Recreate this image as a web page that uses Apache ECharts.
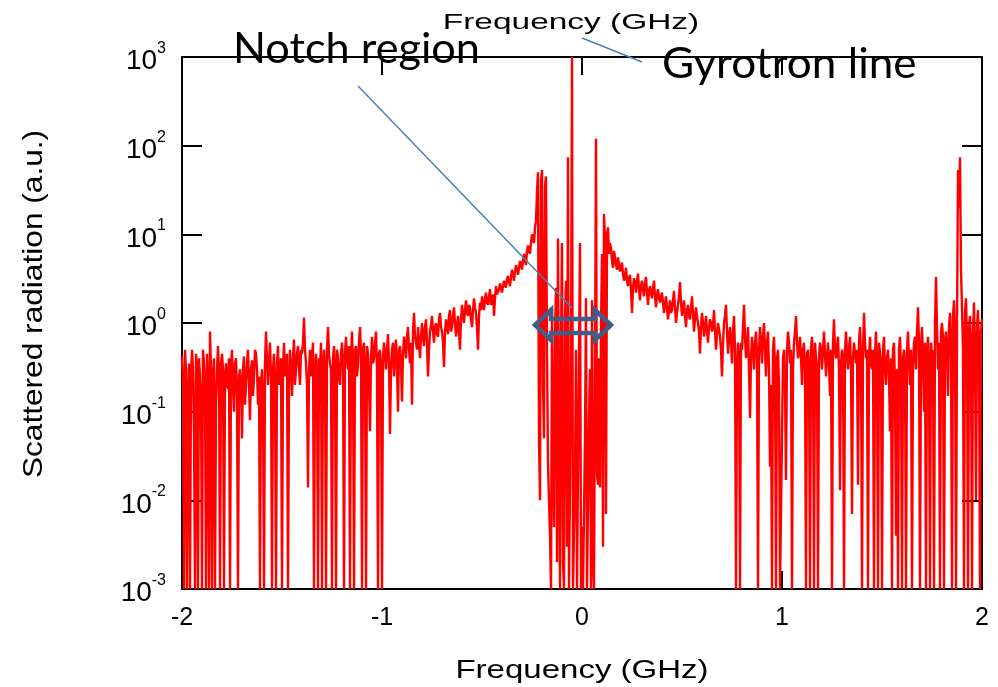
<!DOCTYPE html>
<html><head><meta charset="utf-8">
<script src="https://cdn.jsdelivr.net/npm/echarts@6/dist/echarts.min.js"></script>
<style>html,body{margin:0;padding:0;background:#fff}#c{width:998px;height:687px}</style>
</head><body><div id="c"></div>
<script>
// Frequency grid (GHz), main samples
const freqGHz = [
-2,-1.99,-1.98,-1.97,-1.96,-1.95,-1.94,-1.93,-1.92,-1.91,-1.9,-1.89,-1.88,-1.87,-1.86,-1.85,-1.84,-1.83,-1.82,-1.81,
-1.8,-1.79,-1.78,-1.77,-1.76,-1.75,-1.74,-1.73,-1.72,-1.71,-1.7,-1.69,-1.68,-1.67,-1.66,-1.65,-1.64,-1.63,-1.62,-1.61,
-1.6,-1.59,-1.58,-1.57,-1.56,-1.55,-1.54,-1.53,-1.52,-1.51,-1.5,-1.49,-1.48,-1.47,-1.46,-1.45,-1.44,-1.43,-1.42,-1.41,
-1.4,-1.39,-1.38,-1.37,-1.36,-1.35,-1.34,-1.33,-1.32,-1.31,-1.3,-1.29,-1.28,-1.27,-1.26,-1.25,-1.24,-1.23,-1.22,-1.21,
-1.2,-1.19,-1.18,-1.17,-1.16,-1.15,-1.14,-1.13,-1.12,-1.11,-1.1,-1.09,-1.08,-1.07,-1.06,-1.05,-1.04,-1.03,-1.02,-1.01,
-1,-0.99,-0.98,-0.97,-0.96,-0.95,-0.94,-0.93,-0.92,-0.91,-0.9,-0.89,-0.88,-0.87,-0.86,-0.85,-0.84,-0.83,-0.82,-0.81,
-0.8,-0.79,-0.78,-0.77,-0.76,-0.75,-0.74,-0.73,-0.72,-0.71,-0.7,-0.69,-0.68,-0.67,-0.66,-0.65,-0.64,-0.63,-0.62,-0.61,
-0.6,-0.59,-0.58,-0.57,-0.56,-0.55,-0.54,-0.53,-0.52,-0.51,-0.5,-0.49,-0.48,-0.47,-0.46,-0.45,-0.44,-0.43,-0.42,-0.41,
-0.4,-0.39,-0.38,-0.37,-0.36,-0.35,-0.34,-0.33,-0.32,-0.31,-0.3,-0.29,-0.28,-0.27,-0.26,-0.25,-0.24,-0.23,-0.22,-0.21,
-0.2,-0.19,-0.18,-0.17,-0.16,-0.15,-0.14,-0.13,-0.12,-0.11,-0.1,-0.09,-0.08,-0.07,-0.06,-0.05,-0.04,-0.03,-0.02,-0.01,
0,0.01,0.02,0.03,0.04,0.05,0.06,0.07,0.08,0.09,0.1,0.11,0.12,0.13,0.14,0.15,0.16,0.17,0.18,0.19,
0.2,0.21,0.22,0.23,0.24,0.25,0.26,0.27,0.28,0.29,0.3,0.31,0.32,0.33,0.34,0.35,0.36,0.37,0.38,0.39,
0.4,0.41,0.42,0.43,0.44,0.45,0.46,0.47,0.48,0.49,0.5,0.51,0.52,0.53,0.54,0.55,0.56,0.57,0.58,0.59,
0.6,0.61,0.62,0.63,0.64,0.65,0.66,0.67,0.68,0.69,0.7,0.71,0.72,0.73,0.74,0.75,0.76,0.77,0.78,0.79,
0.8,0.81,0.82,0.83,0.84,0.85,0.86,0.87,0.88,0.89,0.9,0.91,0.92,0.93,0.94,0.95,0.96,0.97,0.98,0.99,
1,1.01,1.02,1.03,1.04,1.05,1.06,1.07,1.08,1.09,1.1,1.11,1.12,1.13,1.14,1.15,1.16,1.17,1.18,1.19,
1.2,1.21,1.22,1.23,1.24,1.25,1.26,1.27,1.28,1.29,1.3,1.31,1.32,1.33,1.34,1.35,1.36,1.37,1.38,1.39,
1.4,1.41,1.42,1.43,1.44,1.45,1.46,1.47,1.48,1.49,1.5,1.51,1.52,1.53,1.54,1.55,1.56,1.57,1.58,1.59,
1.6,1.61,1.62,1.63,1.64,1.65,1.66,1.67,1.68,1.69,1.7,1.71,1.72,1.73,1.74,1.75,1.76,1.77,1.78,1.79,
1.8,1.81,1.82,1.83,1.84,1.85,1.86,1.87,1.88,1.89,1.9,1.91,1.92,1.93,1.94,1.95,1.96,1.97,1.98,1.99,
2
];
// Scattered radiation (a.u.) at the main samples; 0.001 = floor of the plot
const scattered = [
0.42,0.001,0.3,0.15,0.001,0.5,0.06,0.45,0.001,0.25,0.001,0.35,0.001,0.2,0.8,0.001,0.4,0.12,0.55,0.001,
0.45,0.001,0.35,0.18,0.001,0.5,0.1,0.4,0.001,0.3,0.05,0.42,0.2,0.5,0.08,0.38,0.25,0.45,0.12,0.001,
0.3,0.001,0.8,0.2,0.6,0.001,0.45,0.001,0.55,0.25,0.001,0.6,0.3,0.001,0.5,0.15,0.65,0.3,0.55,0.2,
0.45,1.15,0.35,0.014,0.5,0.4,0.001,0.45,0.001,0.3,0.001,0.5,0.001,0.9,0.35,0.001,0.55,0.001,0.4,0.2,
0.6,0.001,0.7,0.3,0.001,0.8,0.001,0.55,0.35,0.9,0.001,0.6,0.001,0.45,0.06,0.7,0.4,0.8,0.001,0.5,
0.001,0.6,0.3,0.75,0.056,0.5,0.25,0.65,0.1,0.55,0.13,0.7,0.4,0.9,0.35,0.12,1.3,0.6,0.9,0.4,
1.0,0.55,1.1,0.25,0.8,1.2,0.6,1.0,0.7,1.3,0.8,0.32,1.1,0.75,1.4,0.9,1.5,0.7,1.2,0.5,
1.6,1.0,1.8,1.2,1.5,0.9,1.9,1.3,0.5,1.7,2.0,1.4,2.2,1.6,2.4,1.8,1.2,2.6,2.0,2.8,
2.2,3.0,2.5,3.4,2.6,4.0,3.0,4.5,3.5,5.0,4.0,6.0,4.5,7.5,6.0,10,8.0,14,50,0.01,
53,0.05,45,0.025,0.004,1.5,0.005,2.5,9,0.001,8,0.001,3,74,0.001,1000,0.001,0.5,0.001,8,
0.005,0.001,1.9,0.001,0.3,1.8,0.001,120,0.015,0.014,6,17,0.007,12,8,5,6.5,4.5,5.5,3.8,
4.8,3.0,4.2,2.6,3.5,1.3,3.2,2.2,3.6,1.8,3.0,2.0,3.3,1.6,2.6,1.9,3.0,1.5,2.4,1.7,
2.2,1.3,2.0,1.1,1.8,1.4,2.3,1.0,1.6,2.9,1.2,1.8,0.9,1.6,1.1,2.0,0.8,1.5,1.0,0.45,
1.3,0.7,1.2,0.6,1.1,0.8,1.4,0.5,1.0,0.7,0.25,1.0,1.6,0.45,0.9,0.35,1.2,0.001,0.6,0.001,
0.5,1.6,0.4,0.9,0.085,0.7,0.3,0.8,0.001,0.9,0.35,1.0,0.25,0.8,0.024,0.001,0.7,0.001,0.5,0.001,
0.001,0.5,0.017,0.8,0.35,0.001,0.6,1.2,0.4,0.7,0.2,0.6,0.001,0.5,0.001,0.7,0.001,0.4,0.001,0.6,
0.3,0.8,0.25,0.6,0.15,0.001,1.1,0.4,0.7,0.013,0.5,0.001,0.8,0.3,0.7,0.007,0.6,0.35,0.015,0.9,
0.001,1.3,0.4,0.001,0.7,0.3,0.001,0.8,0.001,0.6,0.001,0.7,0.2,0.5,0.06,0.001,0.6,0.004,0.001,0.7,
0.001,0.5,0.001,0.8,0.2,0.001,0.6,0.3,1.5,0.001,0.9,0.1,0.001,0.7,0.001,0.4,0.001,3.3,0.3,0.001,
1.0,0.001,0.8,0.15,1.3,0.001,1.8,0.001,53,74,1.5,0.001,1.9,0.001,1.2,0.001,1.7,0.01,1.4,0.001,
1.1
];
// Intermediate samples (GHz) between the main ones
const freqMidGHz = [
-1.995,-1.985,-1.975,-1.965,-1.955,-1.945,-1.935,-1.925,-1.915,-1.905,-1.895,-1.885,-1.875,-1.865,-1.855,-1.845,-1.835,-1.825,-1.815,-1.805,
-1.795,-1.785,-1.775,-1.765,-1.755,-1.745,-1.735,-1.725,-1.715,-1.705,-1.695,-1.685,-1.675,-1.665,-1.655,-1.645,-1.635,-1.625,-1.615,-1.605,
-1.595,-1.585,-1.575,-1.565,-1.555,-1.545,-1.535,-1.525,-1.515,-1.505,-1.495,-1.485,-1.475,-1.465,-1.455,-1.445,-1.435,-1.425,-1.415,-1.405,
-1.395,-1.385,-1.375,-1.365,-1.355,-1.345,-1.335,-1.325,-1.315,-1.305,-1.295,-1.285,-1.275,-1.265,-1.255,-1.245,-1.235,-1.225,-1.215,-1.205,
-1.195,-1.185,-1.175,-1.165,-1.155,-1.145,-1.135,-1.125,-1.115,-1.105,-1.095,-1.085,-1.075,-1.065,-1.055,-1.045,-1.035,-1.025,-1.015,-1.005,
-0.995,-0.985,-0.975,-0.965,-0.955,-0.945,-0.935,-0.925,-0.915,-0.905,-0.895,-0.885,-0.875,-0.865,-0.855,-0.845,-0.835,-0.825,-0.815,-0.805,
-0.795,-0.785,-0.775,-0.765,-0.755,-0.745,-0.735,-0.725,-0.715,-0.705,-0.695,-0.685,-0.675,-0.665,-0.655,-0.645,-0.635,-0.625,-0.615,-0.605,
-0.595,-0.585,-0.575,-0.565,-0.555,-0.545,-0.535,-0.525,-0.515,-0.505,-0.495,-0.485,-0.475,-0.465,-0.455,-0.445,-0.435,-0.425,-0.415,-0.405,
-0.395,-0.385,-0.375,-0.365,-0.355,-0.345,-0.335,-0.325,-0.315,-0.305,-0.295,-0.285,-0.275,-0.265,-0.255,-0.245,-0.235,-0.225,-0.215,-0.205,
-0.195,-0.185,-0.175,-0.165,-0.155,-0.145,-0.135,-0.125,-0.115,-0.105,-0.095,-0.085,-0.075,-0.065,-0.055,-0.045,-0.035,-0.025,-0.015,-0.005,
0.005,0.015,0.025,0.035,0.045,0.055,0.065,0.075,0.085,0.095,0.105,0.115,0.125,0.135,0.145,0.155,0.165,0.175,0.185,0.195,
0.205,0.215,0.225,0.235,0.245,0.255,0.265,0.275,0.285,0.295,0.305,0.315,0.325,0.335,0.345,0.355,0.365,0.375,0.385,0.395,
0.405,0.415,0.425,0.435,0.445,0.455,0.465,0.475,0.485,0.495,0.505,0.515,0.525,0.535,0.545,0.555,0.565,0.575,0.585,0.595,
0.605,0.615,0.625,0.635,0.645,0.655,0.665,0.675,0.685,0.695,0.705,0.715,0.725,0.735,0.745,0.755,0.765,0.775,0.785,0.795,
0.805,0.815,0.825,0.835,0.845,0.855,0.865,0.875,0.885,0.895,0.905,0.915,0.925,0.935,0.945,0.955,0.965,0.975,0.985,0.995,
1.005,1.015,1.025,1.035,1.045,1.055,1.065,1.075,1.085,1.095,1.105,1.115,1.125,1.135,1.145,1.155,1.165,1.175,1.185,1.195,
1.205,1.215,1.225,1.235,1.245,1.255,1.265,1.275,1.285,1.295,1.305,1.315,1.325,1.335,1.345,1.355,1.365,1.375,1.385,1.395,
1.405,1.415,1.425,1.435,1.445,1.455,1.465,1.475,1.485,1.495,1.505,1.515,1.525,1.535,1.545,1.555,1.565,1.575,1.585,1.595,
1.605,1.615,1.625,1.635,1.645,1.655,1.665,1.675,1.685,1.695,1.705,1.715,1.725,1.735,1.745,1.755,1.765,1.775,1.785,1.795,
1.805,1.815,1.825,1.835,1.845,1.855,1.865,1.875,1.885,1.895,1.905,1.915,1.925,1.935,1.945,1.955,1.965,1.975,1.985,1.995
];
// Scattered radiation (a.u.) at the intermediate samples
const scatteredMid = [
0.2,0.5,0.001,0.35,0.25,0.3,0.001,0.3,0.4,0.15,0.5,0.2,0.45,0.001,0.3,0.25,0.001,0.3,0.25,0.35,
0.3,0.25,0.2,0.4,0.3,0.2,0.35,0.15,0.25,0.2,0.3,0.12,0.35,0.2,0.3,0.15,0.5,0.3,0.25,0.2,
0.15,0.35,0.4,0.35,0.25,0.3,0.2,0.35,0.2,0.4,0.3,0.25,0.45,0.2,0.3,0.4,0.2,0.45,0.3,0.5,
0.6,0.5,0.2,0.3,0.25,0.6,0.3,0.25,0.4,0.6,0.35,0.3,0.5,0.45,0.3,0.4,0.3,0.5,0.25,0.45,
0.35,0.45,0.4,0.55,0.4,0.3,0.5,0.25,0.6,0.45,0.5,0.3,0.55,0.2,0.4,0.35,0.6,0.3,0.45,0.3,
0.4,0.45,0.5,0.35,0.3,0.6,0.45,0.3,0.5,0.35,0.45,0.55,0.7,0.5,0.6,0.8,0.7,0.5,0.6,0.7,
0.7,0.9,0.6,0.5,0.95,0.8,0.9,0.75,1.1,0.9,0.6,0.8,0.9,1.2,0.8,1.2,1.0,0.9,0.8,1.1,
1.2,1.4,1.3,1.6,1.1,1.4,1.5,0.9,1.2,1.4,1.6,1.9,1.7,2.0,1.6,2.1,1.9,2.1,2.4,2.5,
2.6,2.7,3.1,2.9,3.3,3.5,3.8,4.0,4.2,4.6,5.0,5.2,6.5,6.5,8.0,9.0,12,30,0.05,40,
0.2,35,0.5,0.01,0.001,0.03,0.8,0.002,0.05,0.6,0.002,1.2,0.003,0.001,0.3,0.001,0.02,0.001,0.4,0.001,
0.001,0.05,0.001,0.08,0.001,0.002,0.001,0.02,0.4,0.9,0.003,9,10,6,7,4.2,5.5,4.0,4.5,4.3,
3.6,3.4,3.0,3.2,2.4,2.5,2.8,3.0,2.4,2.6,2.4,2.8,2.2,2.3,2.2,2.5,2.0,2.1,1.9,2.0,
1.7,1.6,1.5,1.4,1.3,1.8,1.5,1.3,2.0,1.7,1.5,1.2,1.4,1.2,1.5,1.3,1.1,1.2,0.8,0.9,
1.0,0.9,0.8,0.9,1.0,0.9,0.8,0.75,0.85,0.5,0.6,1.2,0.8,0.7,0.6,0.8,0.5,0.3,0.4,0.6,
0.9,0.7,0.6,0.3,0.4,0.5,0.6,0.4,0.5,0.6,0.7,0.5,0.6,0.3,0.2,0.5,0.3,0.4,0.2,0.001,
0.4,0.2,0.5,0.6,0.5,0.3,0.8,0.6,0.5,0.4,0.5,0.3,0.45,0.3,0.5,0.35,0.6,0.3,0.4,0.5,
0.5,0.45,0.4,0.35,0.5,0.6,0.5,0.55,0.3,0.35,0.4,0.5,0.45,0.5,0.3,0.4,0.45,0.5,0.6,0.4,
0.5,0.6,0.5,0.4,0.35,0.5,0.45,0.3,0.6,0.35,0.5,0.3,0.4,0.25,0.4,0.5,0.2,0.3,0.5,0.3,
0.4,0.3,0.5,0.4,0.5,0.3,0.7,0.8,0.6,0.5,0.4,0.6,0.45,0.3,0.6,0.5,1.0,0.9,0.6,0.8,
0.7,0.6,0.5,0.9,0.6,1.2,0.8,0.9,20,4,0.5,1.3,0.6,0.9,0.5,0.8,0.4,0.9,0.5,0.8
];
const xTicks = [-2, -1, 0, 1, 2];
const yTickExponents = [-3, -2, -1, 0, 1, 2, 3];
const xTitle = 'Frequency (GHz)';
const yTitle = 'Scattered radiation (a.u.)';
const notchLabel = 'Notch region';
const gyroLabel = 'Gyrotron line';

const FONT = '"Liberation Sans", Arial, sans-serif';
const chart = echarts.init(document.getElementById('c'), null, {renderer: 'canvas'});
const seriesData = freqGHz.map((f, i) => [f, scattered[i]])
  .concat(freqMidGHz.map((f, i) => [f, scatteredMid[i]]))
  .sort((a, b) => a[0] - b[0]);

const axisLineStyle = {color: '#000', width: 2};
const option = {
  animation: false,
  backgroundColor: '#fff',
  grid: {left: 182, top: 57, width: 800, height: 532, containLabel: false},
  xAxis: [
    {type: 'value', position: 'bottom', min: xTicks[0], max: xTicks[xTicks.length - 1], interval: 1,
     axisLine: {show: true, onZero: false, lineStyle: axisLineStyle},
     axisTick: {show: true, inside: true, length: 18, lineStyle: axisLineStyle},
     axisLabel: {show: true, fontSize: 25, color: '#000', fontFamily: FONT, margin: 17,
       formatter: v => xTicks.includes(v) ? String(v) : ''},
     splitLine: {show: false}},
    {type: 'value', position: 'top', min: xTicks[0], max: xTicks[xTicks.length - 1], interval: 1,
     axisLine: {show: true, onZero: false, lineStyle: axisLineStyle},
     axisTick: {show: true, inside: true, length: 18, lineStyle: axisLineStyle},
     axisLabel: {show: false}, splitLine: {show: false}}
  ],
  yAxis: [
    {type: 'log', logBase: 10, position: 'left', min: 0.001, max: 1000, interval: 1,
     axisLine: {show: true, onZero: false, lineStyle: axisLineStyle},
     axisTick: {show: true, inside: true, length: 20, lineStyle: axisLineStyle},
     axisLabel: {show: true, margin: 16, color: '#000', fontSize: 28, fontFamily: FONT,
       padding: [9, 0, 0, 0],
       formatter: v => {
         const e = Math.round(Math.log10(v));
         return yTickExponents.includes(e) ? '{b|10}{s|' + e + '}' : '';
       },
       rich: {
         b: {fontSize: 28, fontFamily: FONT, color: '#000', lineHeight: 42, verticalAlign: 'middle'},
         s: {fontSize: 16, fontFamily: FONT, color: '#000', lineHeight: 16, verticalAlign: 'top'}
       }},
     splitLine: {show: false}},
    {type: 'log', logBase: 10, position: 'right', min: 0.001, max: 1000, interval: 1,
     axisLine: {show: true, onZero: false, lineStyle: axisLineStyle},
     axisTick: {show: true, inside: true, length: 20, lineStyle: axisLineStyle},
     axisLabel: {show: false}, splitLine: {show: false}}
  ],
  series: [{
    type: 'line', xAxisIndex: 0, yAxisIndex: 0, data: seriesData,
    showSymbol: false, symbol: 'none', clip: true, z: 3,
    lineStyle: {color: '#ff0000', width: 2.4}
  }],
  graphic: [
    {type: 'text', x: 582, y: 671, scaleX: 1.27, z: 100,
     style: {text: xTitle, font: '26px ' + FONT, fill: '#000', align: 'center', verticalAlign: 'middle', textAlign: 'center', textVerticalAlign: 'middle'}},
    {type: 'text', x: 571, y: 23, scaleX: 1.52, z: 100,
     style: {text: xTitle, font: '22px ' + FONT, fill: '#000', align: 'center', verticalAlign: 'middle', textAlign: 'center', textVerticalAlign: 'middle'}},
    {type: 'text', x: 34, y: 304, rotation: Math.PI / 2, scaleX: 1.13, z: 100,
     style: {text: yTitle, font: '28px ' + FONT, fill: '#000', align: 'center', verticalAlign: 'middle', textAlign: 'center', textVerticalAlign: 'middle'}},
    {type: 'text', x: 233, y: 49, scaleX: 1.03, z: 100,
     style: {text: notchLabel, font: '42px Lato, "Open Sans", sans-serif', fill: '#000', align: 'left', verticalAlign: 'middle', textAlign: 'left', textVerticalAlign: 'middle'}},
    {type: 'text', x: 662, y: 64, scaleX: 1.05, z: 100,
     style: {text: gyroLabel, font: '42px Lato, "Open Sans", sans-serif', fill: '#000', align: 'left', verticalAlign: 'middle', textAlign: 'left', textVerticalAlign: 'middle'}},
    {type: 'line', z: 100, shape: {x1: 358, y1: 86, x2: 572, y2: 308}, style: {stroke: '#4a7ebb', lineWidth: 1.5}},
    {type: 'line', z: 100, shape: {x1: 582, y1: 38, x2: 642, y2: 62}, style: {stroke: '#4a7ebb', lineWidth: 1.5}},
    {type: 'polygon', z: 100,
     shape: {points: [[535,325],[551,310],[551,319],[595,319],[595,310],[611,325],[595,340],[595,333],[551,333],[551,340]]},
     style: {fill: 'none', stroke: '#405d88', lineWidth: 4.5, lineJoin: 'miter'}}
  ]
};
chart.setOption(option);
</script>
</body></html>
